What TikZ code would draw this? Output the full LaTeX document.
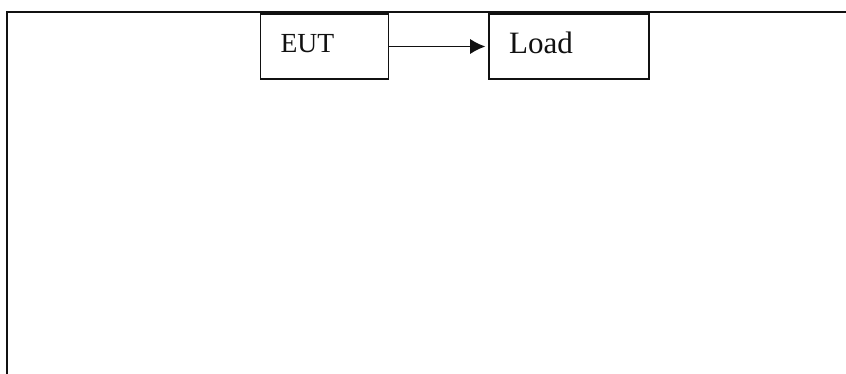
\documentclass[tikz,border=0pt]{standalone}
\usepackage{fontspec}
\setmainfont{Liberation Serif}
\usetikzlibrary{positioning,arrows.meta}
\definecolor{ink}{HTML}{111111}
\tikzset{
  frame/.style={draw=ink, line width=1.3pt},
  blk/.style={draw=ink, line width=1.4pt, minimum height=49pt, inner xsep=15pt,
    align=left, text depth=5pt, text=ink},
  flow/.style={draw=ink, line width=1.3pt, shorten >=2pt,
    -{Latex[length=11.5pt,width=11.5pt]}},
}
\begin{document}
\begin{tikzpicture}[x=0.75pt,y=-0.75pt]
  \useasboundingbox (0,0) rectangle (846,374);
  \coordinate (topR) at (860,11.7);
  \coordinate (topL) at (7,11.7);
  \coordinate (botL) at (7,390);

  % open frame, cut by the page edges
  \draw[frame] (topR) -- (topL) -- (botL);

  \node[blk, minimum width=96pt, text width=66pt] (eut) at (324.5,46.5)
    {\fontsize{20.7}{24}\selectfont EUT};
  \node[blk, minimum width=120pt, text width=90pt, right=74pt of eut] (load)
    {\fontsize{23.3}{27}\selectfont Load};

  \draw[flow] (eut) -- (load);
\end{tikzpicture}
\end{document}
